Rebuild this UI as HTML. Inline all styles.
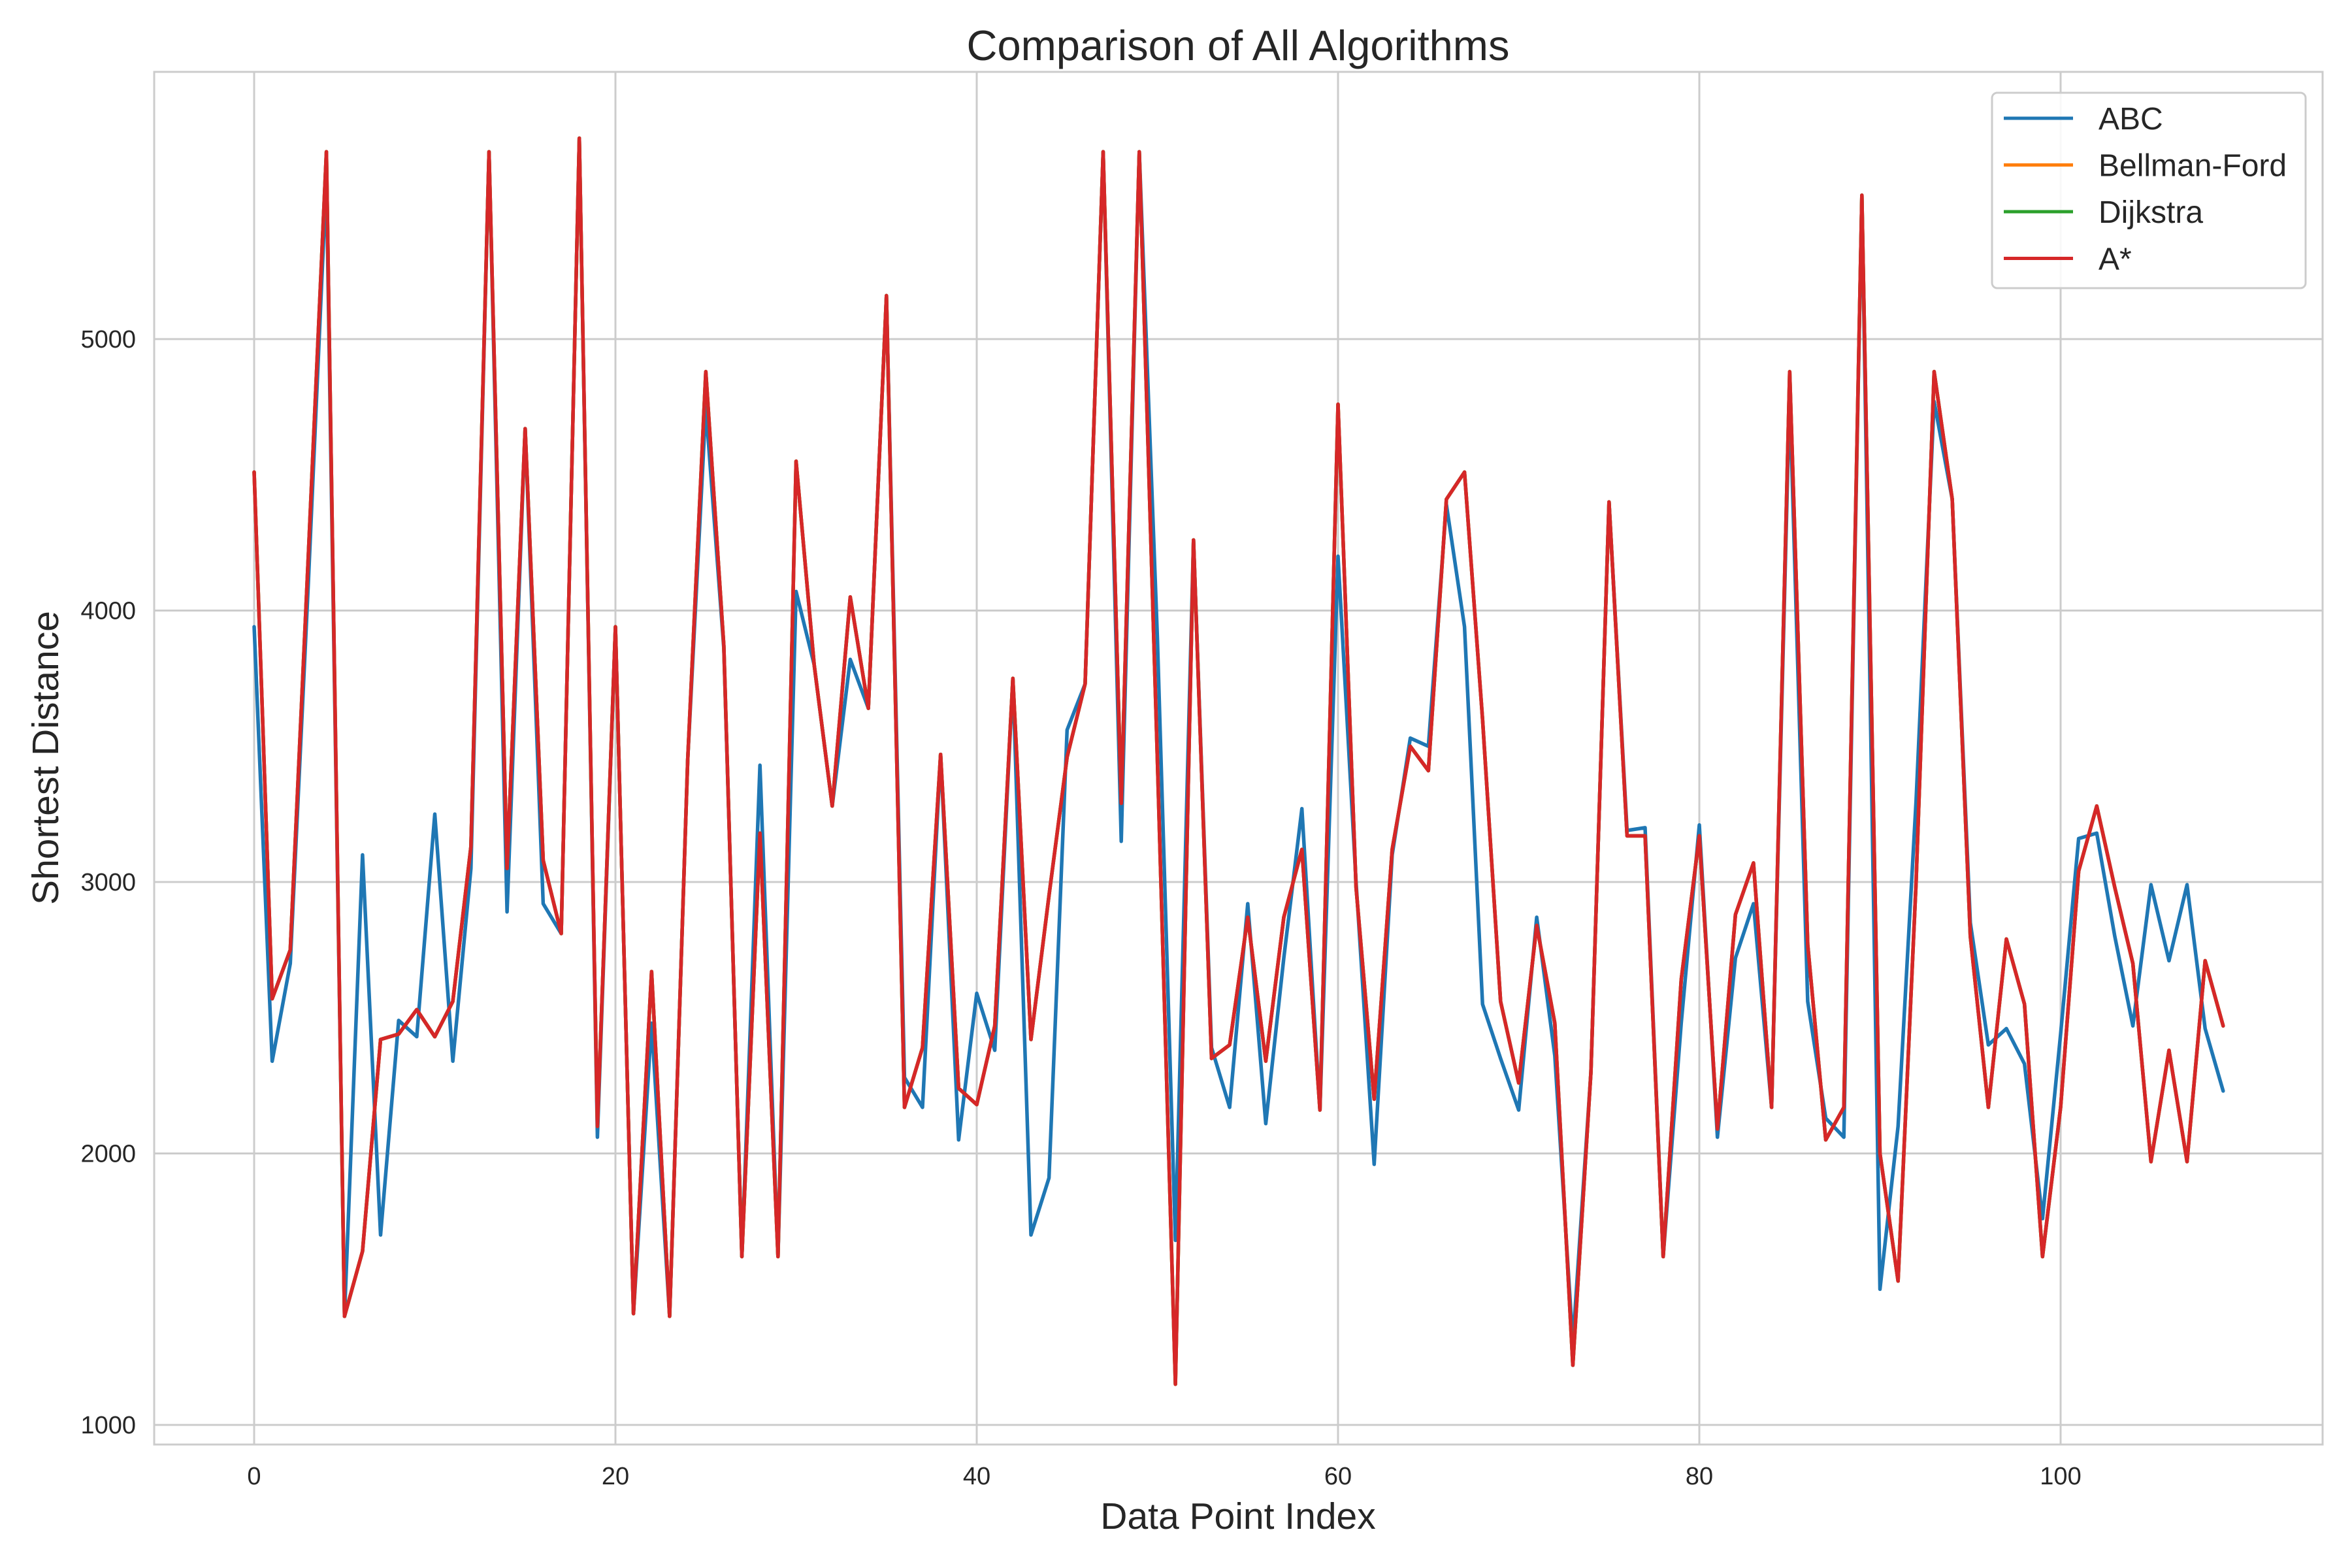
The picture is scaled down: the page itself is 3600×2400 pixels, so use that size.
<!DOCTYPE html>
<html><head><meta charset="utf-8"><style>
body{margin:0;background:#fff}
svg{display:block;font-family:"Liberation Sans",Arial,sans-serif}
</style></head><body>
<svg id="chart" width="3600" height="2400" viewBox="0 0 3600 2400" xmlns="http://www.w3.org/2000/svg">
<rect x="0" y="0" width="3600" height="2400" fill="#fff"/>
<g id="grid"></g>
<rect x="236" y="110" width="3319" height="2101" fill="none" stroke="#cccccc" stroke-width="3"/>
<g id="series"></g>
<g id="ticks"></g>
<text x="1895" y="92" font-size="65" text-anchor="middle" fill="#262626">Comparison of All Algorithms</text>
<text x="1895" y="2340" font-size="57" text-anchor="middle" fill="#262626">Data Point Index</text>
<text transform="translate(89,1160) rotate(-90)" font-size="57" text-anchor="middle" fill="#262626">Shortest Distance</text>
<g id="legend"></g>
</svg>
<script>
const xTicks = [0, 20, 40, 60, 80, 100];
const yTicks = [1000, 2000, 3000, 4000, 5000];
const seriesNames = ["ABC", "Bellman-Ford", "Dijkstra", "A*"];
const seriesColors = ["#1f77b4", "#ff7f0e", "#2ca02c", "#d62728"];
const abcValues = [3940,2340,2700,4100,5600,1400,3100,1700,2490,2430,3250,2340,3050,5690,2890,4670,2920,2810,5740,2060,3940,1410,2480,1400,3450,4750,3860,1620,3430,1620,4070,3800,3280,3820,3640,5160,2280,2170,3470,2050,2590,2380,3750,1700,1910,3560,3730,5690,3150,5690,3900,1680,4260,2390,2170,2920,2110,2720,3270,2160,4200,3000,1960,3100,3530,3500,4390,3940,2550,2350,2160,2870,2360,1300,2300,4400,3190,3200,1620,2480,3210,2060,2720,2920,2170,4800,2560,2130,2060,5530,1500,2100,3300,4770,4410,2850,2400,2460,2330,1760,2440,3160,3180,2800,2470,2990,2710,2990,2460,2230];
const aStarValues = [4510,2570,2750,4200,5690,1400,1640,2420,2440,2530,2430,2560,3130,5690,3050,4670,3080,2810,5740,2100,3940,1410,2670,1400,3450,4880,3870,1620,3180,1620,4550,3800,3280,4050,3640,5160,2170,2390,3470,2240,2180,2470,3750,2420,2950,3460,3730,5690,3290,5690,3450,1150,4260,2350,2400,2870,2340,2870,3120,2160,4760,2980,2200,3120,3500,3410,4410,4510,3600,2560,2260,2840,2480,1220,2300,4400,3170,3170,1620,2640,3170,2090,2880,3070,2170,4880,2770,2050,2170,5530,2000,1530,3000,4880,4410,2800,2170,2790,2550,1620,2170,3040,3280,2980,2700,1970,2380,1970,2710,2470];
const bellmanValues = aStarValues.slice();
const dijkstraValues = aStarValues.slice();

const NS = "http://www.w3.org/2000/svg";
const X0 = 389, XS = 27.65;
const Y1000 = 2181, YS = 0.4155;
function xPos(i){ return X0 + i * XS; }
function yPos(v){ return Y1000 - (v - 1000) * YS; }
function mk(tag, attrs, parent){ const e = document.createElementNS(NS, tag); for (const k in attrs) e.setAttribute(k, attrs[k]); parent.appendChild(e); return e; }

const grid = document.getElementById('grid');
const ticks = document.getElementById('ticks');
xTicks.forEach(t => {
  const l = mk('line', {x1: xPos(t), x2: xPos(t), y1: 110, y2: 2211, stroke: '#cccccc', 'stroke-width': 3}, grid);
  
  
  const tx = mk('text', {x: xPos(t), y: 2272, 'font-size': 38, 'text-anchor': 'middle', fill: '#262626'}, ticks);
  tx.textContent = t;
  
  
});
yTicks.forEach(t => {
  const l = mk('line', {x1: 236, x2: 3555, y1: yPos(t), y2: yPos(t), stroke: '#cccccc', 'stroke-width': 3}, grid);
  
  
  const tx = mk('text', {x: 208, y: yPos(t) + 13, 'font-size': 38, 'text-anchor': 'end', fill: '#262626'}, ticks);
  tx.textContent = t;
  
  
});

const seriesG = document.getElementById('series');
const allValues = [abcValues, bellmanValues, dijkstraValues, aStarValues];
allValues.forEach((vals, s) => {
  const pts = vals.map((v, i) => xPos(i).toFixed(1) + ',' + yPos(v).toFixed(1)).join(' ');
  const p = mk('polyline', {points: pts, fill: 'none', stroke: seriesColors[s], 'stroke-width': 5.5, 'stroke-linejoin': 'round', 'stroke-linecap': 'round'}, seriesG);
  
  
});

const legend = document.getElementById('legend');
const box = mk('rect', {x: 3049, y: 142, width: 480, height: 299, rx: 8, fill: '#fff', 'fill-opacity': 0.85, stroke: '#cccccc', 'stroke-width': 3}, legend);


seriesNames.forEach((n, s) => {
  const y = 181 + s * 71.5;
  const l = mk('line', {x1: 3067, x2: 3173, y1: y, y2: y, stroke: seriesColors[s], 'stroke-width': 5}, legend);
  
  
  const t = mk('text', {x: 3212, y: y + 17, 'font-size': 48, fill: '#262626'}, legend);
  t.textContent = n;
  
  
});
</script>
</body></html>
